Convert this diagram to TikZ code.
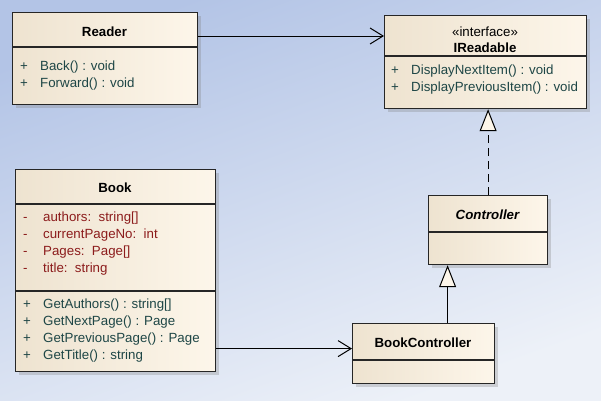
\documentclass[tikz,border=0pt]{standalone}
\usepackage{fontspec}
\setmainfont{Liberation Sans}
\usetikzlibrary{arrows.meta,shadows}
\definecolor{bgtop}{HTML}{B3C4E6}
\definecolor{bgbot}{HTML}{EDF1F8}
\definecolor{classlo}{HTML}{EEE3D0}
\definecolor{classhi}{HTML}{FDF6EA}
\definecolor{opcol}{HTML}{1E4646}
\definecolor{attcol}{HTML}{8C1C1C}
\tikzset{
  classbox/.style = {% one class rectangle, shaded, with its shadow
    draw=black!85, line width=1.2pt,
    left color=classlo, right color=classhi,
    drop shadow={shadow xshift=3pt, shadow yshift=-3pt, opacity=.3},
    anchor=north west, inner sep=0pt,
  },
  divider/.style = {draw=black!85, line width=1.2pt},
  classname/.style = {font=\fontsize{13.3}{16}\selectfont\bfseries, inner sep=0pt},
  member/.style = {anchor=west, inner sep=0pt, text=opcol, text height=10pt, text depth=3pt},
  field/.style = {member, text=attcol},
  assoc/.style = {line width=1pt, -{Straight Barb[length=13pt,width=16pt]}},
  realize/.style = {line width=1pt, dash pattern=on 8pt off 5pt,
    -{Triangle[length=22pt,width=17pt,fill=classhi]}},
  inherit/.style = {line width=1pt, -{Triangle[length=22pt,width=17pt,fill=classhi]}}
}

\begin{document}
\begin{tikzpicture}[x=1pt, y=-1pt, font=\fontsize{13.3}{16}\selectfont]
  \shade[top color=bgtop, bottom color=bgbot, shading angle=20] (0,0) rectangle (601,400);

  % Reader
  \node[classbox, minimum width=185pt, minimum height=92pt] (reader) at (12,12) {};
  \draw[divider] (reader.west |- 0,47) -- (reader.east |- 0,47);
  \node[classname] (readername) at (104.5,32) {Reader};
  \foreach \m [count=\i] in {Back() : void, Forward() : void} {
    \node[member] (rplus\i) at (20,50+17*\i) {+};
    \node[member] (rop\i) at (40,50+17*\i) {\m};
  }

  % IReadable
  \node[classbox, minimum width=202pt, minimum height=93pt] (ireadable) at (384,15) {};
  \draw[divider] (ireadable.west |- 0,56) -- (ireadable.east |- 0,56);
  \node[inner sep=0pt] (stereo) at (485,32) {«interface»};
  \node[classname] (ireadablename) at (485,48) {IReadable};
  \foreach \m [count=\i] in {DisplayNextItem() : void, DisplayPreviousItem() : void} {
    \node[member] (iplus\i) at (391,54+17*\i) {+};
    \node[member] (iop\i) at (411,54+17*\i) {\m};
  }

  % Book
  \node[classbox, minimum width=200pt, minimum height=202pt] (book) at (15,169) {};
  \draw[divider] (book.west |- 0,204) -- (book.east |- 0,204);
  \draw[divider] (book.west |- 0,291) -- (book.east |- 0,291);
  \node[classname] (bookname) at (115,188) {Book};
  \foreach \f [count=\i] in {authors:~~string[], currentPageNo:~~int, Pages:~~Page[], title:~~string} {
    \node[field] (bminus\i) at (23,201+17*\i) {-};
    \node[field] (batt\i) at (43,201+17*\i) {\f};
  }
  \foreach \m [count=\i] in {GetAuthors() : string[], GetNextPage() : Page,
                            GetPreviousPage() : Page, GetTitle() : string} {
    \node[member] (bplus\i) at (23,288+17*\i) {+};
    \node[member] (bop\i) at (43,288+17*\i) {\m};
  }

  % Controller
  \node[classbox, minimum width=119pt, minimum height=69pt] (controller) at (428,195) {};
  \draw[divider] (controller.west |- 0,232) -- (controller.east |- 0,232);
  \node[classname, font=\fontsize{13.3}{16}\selectfont\bfseries\itshape] (controllername) at (487.5,215) {Controller};

  % BookController
  \node[classbox, minimum width=142pt, minimum height=60pt] (bookctrl) at (352,323) {};
  \draw[divider] (bookctrl.west |- 0,360) -- (bookctrl.east |- 0,360);
  \node[classname] (bookctrlname) at (423,343) {BookController};

  % relations
  \coordinate (ra) at ([yshift=-24pt]reader.north east);
  \draw[assoc] (ra) -- (ra -| ireadable.west);
  \draw[realize] (controller.north) -- (controller.north |- ireadable.south);
  \coordinate (gc) at ([xshift=24pt]bookctrl.north);
  \draw[inherit] (gc) -- (gc |- controller.south);
  \coordinate (ba) at ([yshift=5pt]bookctrl.west);
  \draw[assoc] (ba -| book.east) -- (ba);
\end{tikzpicture}
\end{document}
